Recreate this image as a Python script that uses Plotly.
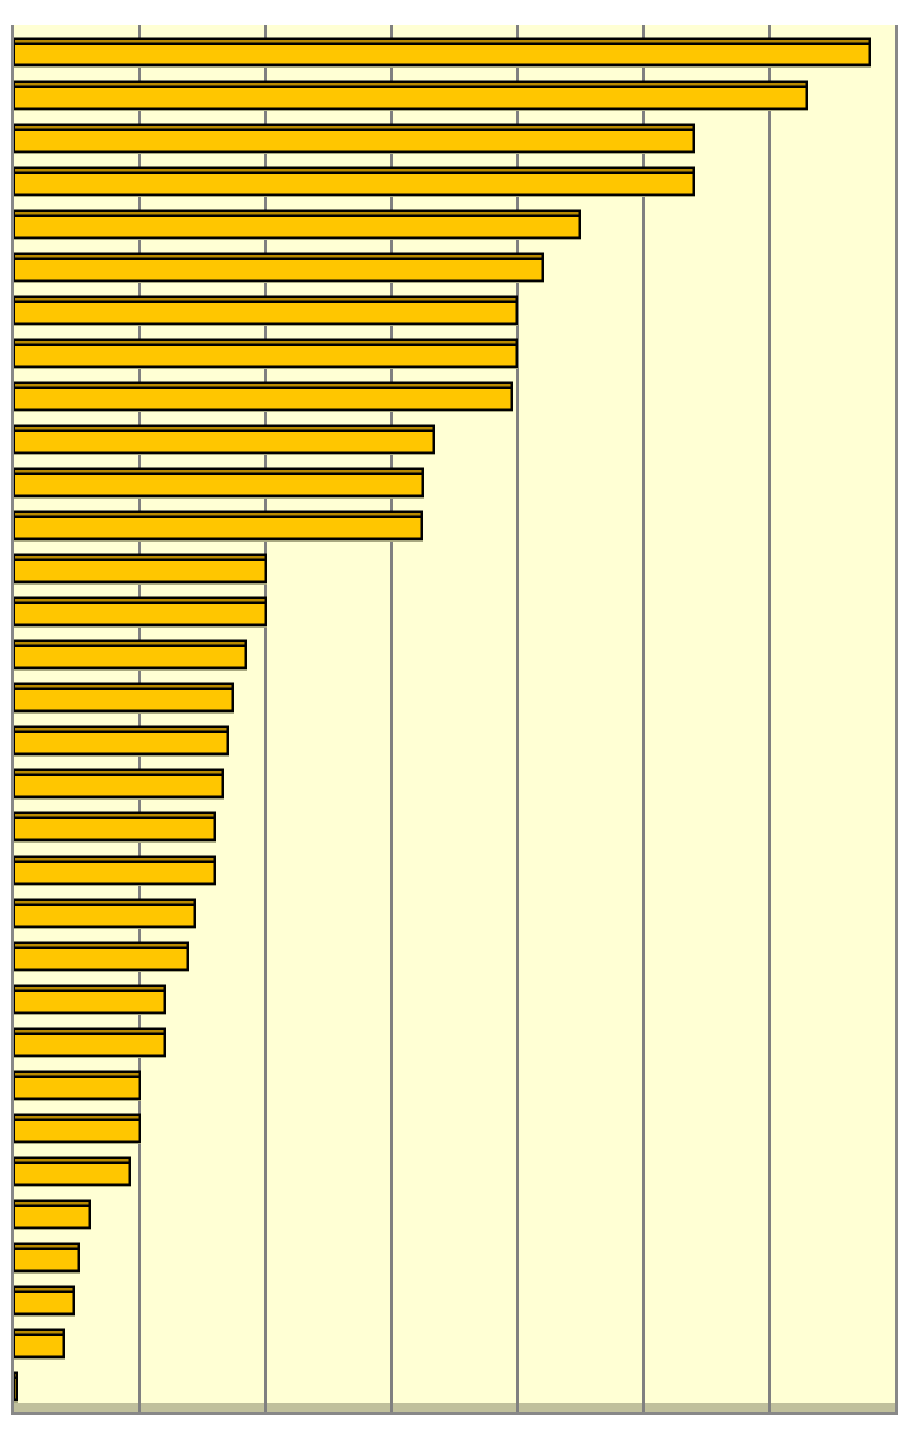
import plotly.graph_objects as go

# Data (bars ordered top to bottom)
categories = list(range(32))
values = [34.0, 31.5, 27.0, 27.0, 22.5, 21.0, 20.0, 20.0, 19.8, 16.7,
          16.25, 16.2, 10.0, 10.0, 9.2, 8.7, 8.5, 8.3, 8.0, 8.0,
          7.2, 6.9, 6.0, 6.0, 5.0, 5.0, 4.6, 3.0, 2.6, 2.4,
          2.0, 0.1]

PX_PER_CAT = 43.06
BAR_W = 27 / PX_PER_CAT
STRIP = 5 / PX_PER_CAT
SHADOW = 1.5 / PX_PER_CAT

fig = go.Figure()

# soft shadow behind each bar
fig.add_trace(go.Bar(
    y=categories, x=values, orientation="h",
    width=BAR_W, offset=-BAR_W / 2 + SHADOW,
    marker=dict(color="#A8A880", line=dict(color="#A8A880", width=2)),
    hoverinfo="skip", showlegend=False,
))
# top (darker) face of each bar
fig.add_trace(go.Bar(
    y=categories, x=values, orientation="h",
    width=BAR_W, offset=-BAR_W / 2,
    marker=dict(color="#B88A00", line=dict(color="black", width=2.5)),
    hoverinfo="x", showlegend=False,
))
# front face
fig.add_trace(go.Bar(
    y=categories, x=values, orientation="h",
    width=BAR_W - STRIP, offset=-BAR_W / 2 + STRIP,
    marker=dict(color="#FFC600", line=dict(color="black", width=2.5)),
    hoverinfo="x", showlegend=False,
))

W, H = 909 - 16, 1438 - 16
plot_w, plot_h = 884, 1387
fig.update_layout(
    width=W, height=H,
    margin=dict(l=6, r=W - 6 - plot_w, t=17, b=H - 17 - plot_h, pad=0),
    paper_bgcolor="white",
    plot_bgcolor="#FFFFD4",
    barmode="overlay",
    bargap=0,
    xaxis=dict(range=[0, 35], dtick=5, showgrid=True, gridcolor="#808080",
               gridwidth=2.5, showticklabels=False, ticks="", zeroline=False,
               showline=True, linecolor="#888888", linewidth=3, fixedrange=True),
    yaxis=dict(range=[31.588, -0.627], showgrid=False, showticklabels=False,
               ticks="", zeroline=False, showline=True, mirror=True,
               linecolor="#888888", linewidth=2.5, fixedrange=True),
    shapes=[dict(type="rect", xref="paper", yref="paper", x0=0, x1=1,
                 y0=0, y1=9 / plot_h, fillcolor="#C0C09C",
                 line=dict(width=0), layer="between")],
)

fig.write_html("out.html")
